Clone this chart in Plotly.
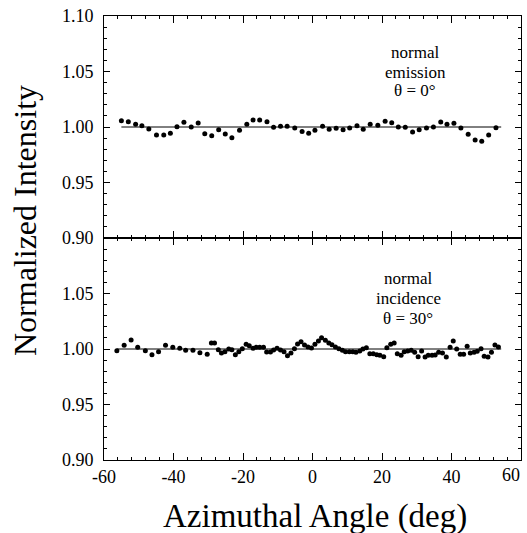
import plotly.graph_objects as go

# ---- data: top panel (normal emission, theta = 0 deg)
top_angle = [-55.0, -53.0, -50.9, -49.1, -47.1, -44.9, -42.8, -40.9, -39.0, -37.0,
             -34.9, -32.9, -31.0, -29.0, -27.0, -25.1, -23.2, -21.0, -18.9, -17.1,
             -15.2, -13.1, -11.2, -9.2, -7.3, -5.1, -3.0, -1.1, 0.7, 2.9,
             4.8, 6.8, 8.8, 10.7, 12.8, 14.6, 16.6, 18.8, 20.9, 22.8,
             24.7, 26.7, 28.8, 30.7, 32.8, 34.8, 36.9, 38.7, 40.7, 42.7,
             44.8, 46.8, 48.7, 50.7, 52.8]
top_intensity = [1.0057, 1.0048, 1.0024, 1.0012, 0.9982, 0.9928, 0.9928, 0.9943, 1.0003, 1.0042,
                 1.0000, 1.0036, 0.9940, 0.9922, 0.9976, 0.9937, 0.9904, 0.9970, 1.0024, 1.0063,
                 1.0063, 1.0048, 0.9997, 1.0006, 1.0006, 0.9990, 0.9960, 0.9943, 0.9970, 1.0006,
                 0.9979, 0.9988, 0.9976, 0.9990, 1.0012, 0.9979, 1.0024, 1.0015, 1.0051, 1.0039,
                 1.0000, 0.9997, 0.9955, 0.9976, 0.9990, 1.0000, 1.0045, 1.0024, 1.0033, 0.9990,
                 0.9934, 0.9883, 0.9871, 0.9928, 0.9994]

# ---- data: bottom panel (normal incidence, theta = 30 deg)
bot_angle = [-56.3, -54.2, -52.2, -50.3, -48.1, -46.2, -44.3, -42.3, -40.2, -38.2,
             -36.5, -34.4, -32.4, -30.3, -29.1, -28.2, -27.1, -26.2, -25.2, -24.1,
             -23.2, -22.2, -21.2, -20.2, -19.1, -18.2, -17.1, -16.2, -15.2, -14.1,
             -13.2, -12.1, -11.2, -10.2, -9.2, -8.2, -7.2, -6.2, -5.2, -4.3,
             -3.3, -2.3, -1.3, -0.3, 0.7, 1.7, 2.6, 3.7, 4.7, 5.6,
             6.6, 7.6, 8.6, 9.5, 10.6, 11.6, 12.5, 13.6, 14.5, 15.5,
             16.5, 17.5, 18.5, 19.4, 20.5, 21.4, 22.5, 23.5, 24.4, 25.5,
             26.4, 27.4, 28.4, 29.4, 30.4, 31.4, 32.4, 33.3, 34.4, 35.3,
             36.3, 37.4, 38.5, 39.6, 40.5, 41.5, 42.5, 43.5, 44.5, 45.4,
             46.5, 47.4, 48.5, 49.4, 50.5, 51.5, 52.5, 53.5]
bot_intensity = [0.9985, 1.0033, 1.0081, 1.0015, 0.9985, 0.9949, 0.9976, 1.0033, 1.0015, 1.0006,
                 0.9988, 0.9988, 0.9967, 0.9952, 1.0054, 1.0054, 0.9994, 0.9964, 0.9976, 1.0000,
                 0.9994, 0.9949, 0.9976, 1.0003, 1.0042, 1.0030, 1.0006, 1.0015, 1.0015, 1.0015,
                 0.9973, 0.9973, 0.9991, 1.0006, 0.9991, 0.9976, 0.9940, 0.9964, 1.0003, 1.0045,
                 1.0066, 1.0036, 1.0018, 1.0009, 1.0042, 1.0072, 1.0102, 1.0078, 1.0054, 1.0039,
                 1.0018, 1.0003, 0.9988, 0.9976, 0.9976, 0.9976, 0.9970, 0.9982, 1.0000, 1.0012,
                 0.9958, 0.9958, 0.9949, 0.9943, 0.9931, 1.0012, 1.0042, 1.0054, 0.9958, 0.9943,
                 0.9976, 0.9982, 0.9988, 0.9970, 0.9931, 0.9982, 0.9928, 0.9943, 0.9943, 0.9946,
                 0.9970, 0.9964, 0.9928, 1.0015, 1.0072, 1.0000, 0.9952, 0.9952, 1.0024, 0.9964,
                 0.9970, 0.9979, 1.0003, 0.9934, 0.9928, 0.9970, 1.0036, 1.0018]

# reference lines at unit intensity
top_ref_x = [-55.0, 54.3]
bot_ref_x = [-56.3, 54.3]
ref_y = [1.0, 1.0]

x_ticks = [-60, -40, -20, 0, 20, 40, 60]
x_tick_labels = ["-60", "-40", "-20", "0", "20", "40", ""]
x_last_label = "60"   # drawn right-aligned at the axis end so it stays inside the page
top_y_ticks = [0.90, 0.95, 1.00, 1.05, 1.10]
bot_y_ticks = [0.90, 0.95, 1.00, 1.05]

FONT = "Liberation Serif"

fig = go.Figure()

# bottom panel (x, y)
fig.add_trace(go.Scatter(x=bot_ref_x, y=ref_y, mode="lines",
                         line=dict(color="black", width=1), xaxis="x", yaxis="y",
                         showlegend=False, hoverinfo="skip"))
fig.add_trace(go.Scatter(x=bot_angle, y=bot_intensity, mode="markers",
                         marker=dict(color="black", size=5), xaxis="x", yaxis="y",
                         showlegend=False))
# top panel (x2, y2)
fig.add_trace(go.Scatter(x=top_ref_x, y=ref_y, mode="lines",
                         line=dict(color="black", width=1), xaxis="x2", yaxis="y2",
                         showlegend=False, hoverinfo="skip"))
fig.add_trace(go.Scatter(x=top_angle, y=top_intensity, mode="markers",
                         marker=dict(color="black", size=5), xaxis="x2", yaxis="y2",
                         showlegend=False))

xcommon = dict(range=[-60, 60], tickvals=x_ticks, ticktext=x_tick_labels,
               ticks="inside", ticklen=7, automargin=False,
               tickcolor="black", showline=True, linecolor="black", linewidth=1,
               mirror="allticks", showgrid=False, zeroline=False,
               minor=dict(dtick=4, tick0=-60, ticks="inside", ticklen=3, tickcolor="black"))
ycommon = dict(range=[0.90, 1.10], ticks="inside", ticklen=6, ticklabelstandoff=6,
               automargin=False,
               tickcolor="black", showline=True, linecolor="black", linewidth=1,
               mirror="allticks", showgrid=False, zeroline=False, tickformat=".2f",
               minor=dict(dtick=0.01, tick0=0.90, ticks="inside", ticklen=3, tickcolor="black"))

fig.update_layout(
    width=527, height=533,
    margin=dict(l=104, r=6, t=16, b=73, autoexpand=False),
    paper_bgcolor="white", plot_bgcolor="white",
    font=dict(family=FONT, color="black", size=17),
    xaxis=dict(**xcommon, domain=[0, 1], anchor="y", showticklabels=True,
               tickfont=dict(family=FONT, size=18)),
    yaxis=dict(**ycommon, domain=[0, 0.5], anchor="x", tickvals=bot_y_ticks,
               tickfont=dict(family=FONT, size=18)),
    xaxis2=dict(**xcommon, domain=[0, 1], anchor="y2", matches="x", showticklabels=False),
    yaxis2=dict(**ycommon, domain=[0.5, 1], anchor="x2", tickvals=top_y_ticks,
                tickfont=dict(family=FONT, size=18)),
)

ann = []
for txt, y in [("normal", 1.0667), ("emission", 1.0495), ("θ = 0°", 1.0333)]:
    ann.append(dict(text=txt, x=29.6, y=y, xref="x2", yref="y2", showarrow=False,
                    font=dict(family=FONT, size=17), xanchor="center", yanchor="middle"))
for txt, y in [("normal", 1.0631), ("incidence", 1.0459), ("θ = 30°", 1.0279)]:
    ann.append(dict(text=txt, x=27.5, y=y, xref="x", yref="y", showarrow=False,
                    font=dict(family=FONT, size=17), xanchor="center", yanchor="middle"))
ann.append(dict(text=x_last_label, x=x_ticks[-1], y=0, xref="x", yref="paper",
                showarrow=False, font=dict(family=FONT, size=18),
                xanchor="right", yanchor="top", yshift=-3, xshift=1))
ann.append(dict(text="Normalized Intensity", x=-0.19, y=0.54, xref="paper", yref="paper",
                textangle=-90, showarrow=False, font=dict(family=FONT, size=32),
                xanchor="center", yanchor="middle"))
ann.append(dict(text="Azimuthal Angle (deg)", x=0.506, y=-0.128, xref="paper", yref="paper",
                showarrow=False, font=dict(family=FONT, size=33),
                xanchor="center", yanchor="middle"))
fig.update_layout(annotations=ann)

fig.write_html("out.html",
               config={"displayModeBar": False},
               post_script="document.body.style.margin='0px';"
                           "document.body.style.overflow='hidden';")
